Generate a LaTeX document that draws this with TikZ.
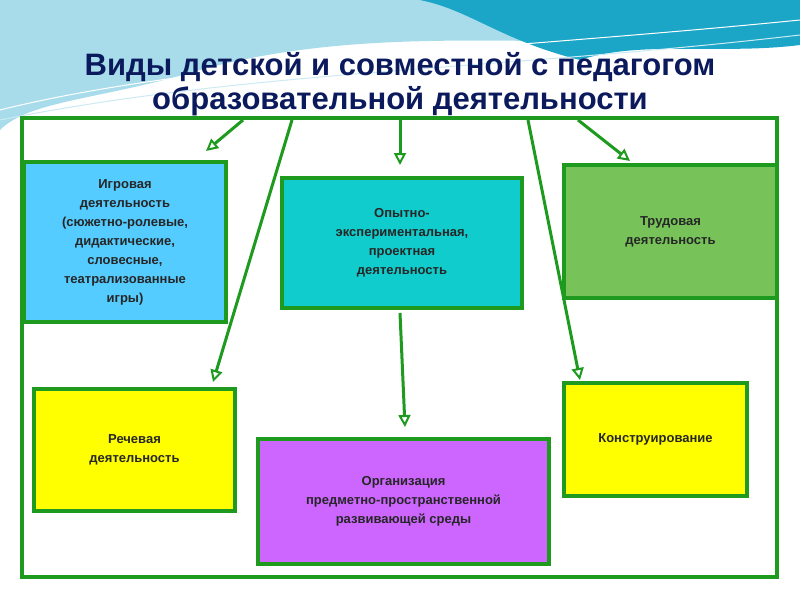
\documentclass[tikz,border=0pt]{standalone}
\usepackage{fontspec}
\setmainfont{Liberation Sans}
\usetikzlibrary{arrows.meta}
\definecolor{frm}{HTML}{1E9A1E}
\definecolor{navy}{HTML}{0B1A5C}
\definecolor{cgame}{HTML}{55CCFF}
\definecolor{cexp}{HTML}{11CCCC}
\definecolor{clab}{HTML}{77C35A}
\definecolor{corg}{HTML}{CC66FF}
\definecolor{cyel}{HTML}{FFFF00}
\definecolor{wave1}{HTML}{A8DCEB}
\definecolor{wave2}{HTML}{1BA6C8}
\tikzset{
 box/.style={draw=frm,line width=4pt,align=center,font=\bfseries\fontsize{13}{19}\selectfont,text=black!85,inner sep=0pt,anchor=north west},
 conn/.style={draw=frm,line width=3pt,-{Triangle[open,length=12pt,width=12pt,line width=2pt]}}
}
\begin{document}
\begin{tikzpicture}[x=1pt,y=-1pt]
\useasboundingbox (0,0) rectangle (800,600);
\fill[white] (0,0) rectangle (800,600);
% background waves
\fill[wave1] (0,0) -- (800,0) -- (800,30) .. controls (600,60) and (400,15) .. (200,70) .. controls (100,100) and (30,100) .. (0,130) -- cycle;
\fill[wave2] (420,0) -- (800,0) -- (800,45) .. controls (720,55) and (640,40) .. (580,60) .. controls (500,40) and (470,10) .. (420,0) -- cycle;
\draw[white,line width=1pt] (0,110) .. controls (200,60) and (500,50) .. (800,20);
\draw[wave1!60!white,line width=1pt] (0,120) .. controls (250,70) and (500,70) .. (800,35);
\node[font=\bfseries\fontsize{31}{34}\selectfont,text=navy,align=center] (t) at (400,84) {Виды детской и совместной с педагогом\\образовательной деятельности};
\draw[frm,line width=3.5pt] (22,118) rectangle (777,577);
\node[box,fill=cgame,minimum width=202,minimum height=160] (g) at (22,160) {Игровая\\деятельность\\(сюжетно-ролевые,\\дидактические,\\словесные,\\театрализованные\\игры)};
\node[box,fill=cexp,minimum width=240,minimum height=130] (e) at (280,176) {Опытно-\\экспериментальная,\\проектная\\деятельность};
\node[box,fill=clab,minimum width=213,minimum height=133] (l) at (562,163) {Трудовая\\деятельность};
\node[box,fill=cyel,minimum width=201,minimum height=122] (s) at (32,387) {Речевая\\деятельность};
\node[box,fill=corg,minimum width=291,minimum height=125] (o) at (256,437) {Организация\\предметно-пространственной\\развивающей среды};
\node[box,fill=cyel,minimum width=183,minimum height=113] (c) at (562,381) {Конструирование};
\coordinate (a1) at (243,120); \coordinate (a2) at (292,120); \coordinate (a3) at (400,120);
\coordinate (a4) at (528,120); \coordinate (a5) at (578,120); \coordinate (a6) at (400,313);
\coordinate (b1) at (206,151); \coordinate (b2) at (213,382); \coordinate (b3) at (400,165);
\coordinate (b4) at (580,380); \coordinate (b5) at (630,161); \coordinate (b6) at (405,427);
\foreach \i in {1,...,6} \draw[conn] (a\i) -- (b\i);
\end{tikzpicture}
\end{document}
